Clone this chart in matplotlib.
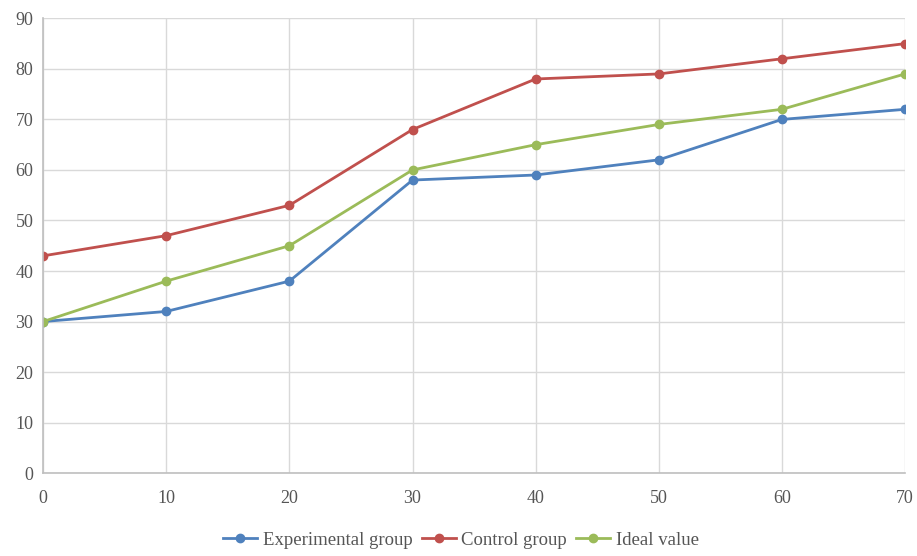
import matplotlib.pyplot as plt

# time points and the three measured series
x = [0, 10, 20, 30, 40, 50, 60, 70]
experimental = [30, 32, 38, 58, 59, 62, 70, 72]
control = [43, 47, 53, 68, 78, 79, 82, 85]
ideal = [30, 38, 45, 60, 65, 69, 72, 79]

plt.rcParams['font.family'] = ['Liberation Serif', 'DejaVu Serif']

fig = plt.figure(figsize=(9.17, 5.56), dpi=100)
ax = fig.add_axes([0.047, 0.149, 0.94, 0.818])

ax.plot(x, experimental, marker='o', ms=6, lw=2, color='#4F81BD', label='Experimental group')
ax.plot(x, control, marker='o', ms=6, lw=2, color='#C0504D', label='Control group')
ax.plot(x, ideal, marker='o', ms=6, lw=2, color='#9BBB59', label='Ideal value')

ax.set_xlim(0, 70)
ax.set_ylim(0, 90)
ax.set_xticks(range(0, 71, 10))
ax.set_yticks(range(0, 91, 10))
ax.grid(True, color='#D9D9D9', lw=1)
ax.set_axisbelow(True)
for s in ['top', 'right']:
    ax.spines[s].set_visible(False)
for s in ['left', 'bottom']:
    ax.spines[s].set_color('#BFBFBF')
    ax.spines[s].set_linewidth(1.2)
ax.tick_params(axis='y', length=0, labelsize=13, labelcolor='#555555', pad=7)
ax.tick_params(axis='x', length=0, labelsize=13, labelcolor='#555555', pad=12)

ax.legend(loc='center', bbox_to_anchor=(0.485, -0.148), ncol=3, frameon=False,
          fontsize=13.5, handlelength=1.8, handletextpad=0.3, columnspacing=0.5,
          labelcolor='#555555')

fig.savefig('out.png', dpi=100)
